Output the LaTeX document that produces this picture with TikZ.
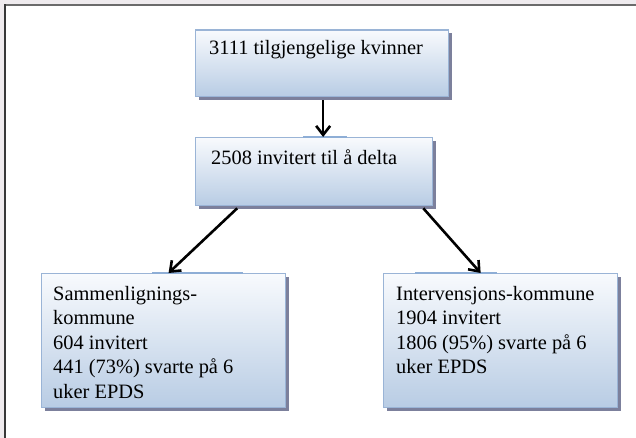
\documentclass[tikz,border=0pt]{standalone}
\usepackage{fontspec}
\setmainfont{Liberation Serif}
\usetikzlibrary{arrows.meta,calc,shadows}
\definecolor{pagegray}{RGB}{239,235,238}
\definecolor{boxtop}{RGB}{248,250,253}
\definecolor{boxbot}{RGB}{184,204,228}
\definecolor{boxline}{RGB}{154,180,214}
\definecolor{barc}{RGB}{142,174,214}
\definecolor{shadowc}{RGB}{124,128,156}
\begin{document}
\begin{tikzpicture}[x=1pt,y=-1pt,
  flowbox/.style={draw=boxline, line width=1.3pt, top color=boxtop, bottom color=boxbot,
    anchor=north west, inner sep=0pt,
    drop shadow={shadow xshift=3pt, shadow yshift=-3pt, fill=shadowc, opacity=1}},
  boxtext/.style={anchor=base west, inner sep=0pt, align=left,
    font=\fontsize{20.4pt}{24.5pt}\selectfont},
  joinbar/.style={draw=barc, line width=2.6pt},
  flowarrow/.style={line width=2.6pt, -{Straight Barb[length=9pt,width=14pt]}}]
\useasboundingbox (0,0) rectangle (636,438);
\fill[pagegray] (0,0) rectangle (636,438);
\fill[white] (5,5) rectangle (636,438);
\draw[line width=1.6pt, color=black!58] (4.2,5) -- (636,5);
\draw[line width=1.6pt, color=black!78] (5,4.2) -- (5,438);
% boxes
\node[flowbox, minimum width=253pt, minimum height=66.5pt] (top) at (195,29.5) {};
\node[flowbox, minimum width=237pt, minimum height=68pt] (mid) at (195,137) {};
\node[flowbox, minimum width=244pt, minimum height=134pt] (left) at (41,273) {};
\node[flowbox, minimum width=234pt, minimum height=134pt] (right) at (383,273) {};
% small connection bars on the box edges
\draw[joinbar] ($(mid.north west)+(108,0)$) -- ($(mid.north west)+(152,0)$);
\draw[joinbar] ($(left.north west)+(111,0)$) -- ($(left.north west)+(202,0)$);
\draw[joinbar] ($(right.north west)+(32,0)$) -- ($(right.north west)+(114,0)$);
% texts
\node[boxtext] (ttop) at (209,55) {3111 tilgjengelige kvinner};
\node[boxtext] (tmid) at (211,165) {2508 invitert til å delta};
\node[boxtext, anchor=north west] (tleft) at (53,286) {Sammenlignings-\\kommune\\604 invitert\\441 (73\%) svarte på 6\\uker EPDS};
\node[boxtext, anchor=north west] (tright) at (396,286) {Intervensjons-kommune\\1904 invitert\\1806 (95\%) svarte på 6\\uker EPDS};
% arrow end points
\coordinate (a1s) at ($(top.south)+(1,3)$);
\coordinate (a1e) at (a1s |- mid.north);
\coordinate (a2s) at ($(mid.south west)!0.177!(mid.south east)+(0,2)$);
\coordinate (a2e) at ($(left.north west)!0.52!(left.north east)$);
\coordinate (a3s) at ($(mid.south west)!0.958!(mid.south east)+(0,2)$);
\coordinate (a3e) at ($(right.north west)!0.415!(right.north east)$);
% arrows
\draw[flowarrow] (a1s) -- (a1e);
\draw[flowarrow] (a2s) -- (a2e);
\draw[flowarrow] (a3s) -- (a3e);
\end{tikzpicture}
\end{document}
